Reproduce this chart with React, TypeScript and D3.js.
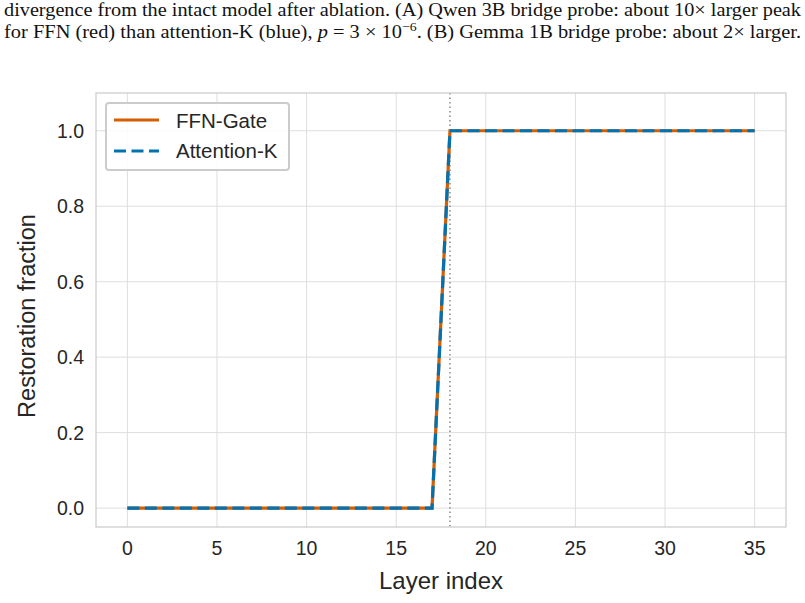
import React from "react";
import * as d3 from "d3";

// layer indices and restoration fractions per probe
const layers = d3.range(0, 36);
const ffnGate = [
  0, 0, 0, 0, 0, 0, 0, 0, 0, 0, 0, 0, 0, 0, 0, 0, 0, 0,
  1, 1, 1, 1, 1, 1, 1, 1, 1, 1, 1, 1, 1, 1, 1, 1, 1, 1,
];
const attentionK = [
  0, 0, 0, 0, 0, 0, 0, 0, 0, 0, 0, 0, 0, 0, 0, 0, 0, 0,
  1, 1, 1, 1, 1, 1, 1, 1, 1, 1, 1, 1, 1, 1, 1, 1, 1, 1,
];
const bridgeLayer = 18;
const xTicks = [0, 5, 10, 15, 20, 25, 30, 35];
const yTicks = [0, 0.2, 0.4, 0.6, 0.8, 1.0];
const captionLine1 =
  "divergence from the intact model after ablation. (A) Qwen 3B bridge probe: about 10\u00d7 larger peak";

const W = 805;
const H = 603;
const plot = { left: 96, right: 786, top: 93, bottom: 527 };

const App = () => {
  const x = d3.scaleLinear().domain([-1.75, 36.75]).range([plot.left, plot.right]);
  const y = d3.scaleLinear().domain([-0.05, 1.1]).range([plot.bottom, plot.top]);

  const line = d3
    .line<[number, number]>()
    .x((d) => x(d[0]))
    .y((d) => y(d[1]));

  const ffnPts = layers.map((l, i) => [l, ffnGate[i]] as [number, number]);
  const attPts = layers.map((l, i) => [l, attentionK[i]] as [number, number]);

  const sans = "Liberation Sans, Arial, sans-serif";
  const orange = "#d55e00";
  const blue = "#0072b2";
  const dash = "12,5.5";

  return (
    <svg width={W} height={H} style={{ position: "absolute", left: 0, top: 0 }}>
      <rect width={W} height={H} fill="#fff" />
      {/* caption */}
      <g fontFamily="Liberation Serif, Times New Roman, serif" fontSize={18.5} fill="#111">
        <text x={4} y={16} textLength={797} lengthAdjust="spacingAndGlyphs">
          {captionLine1}
        </text>
        <text x={4} y={37.5} textLength={797} lengthAdjust="spacingAndGlyphs">
          for FFN (red) than attention-K (blue), <tspan fontStyle="italic">p</tspan> = 3 {"\u00d7"} 10
          <tspan dy={-7} fontSize={12.5}>{"\u22126"}</tspan>
          <tspan dy={7}>. (B) Gemma 1B bridge probe: about 2{"\u00d7"} larger.</tspan>
        </text>
      </g>

      {/* grid */}
      <g stroke="#dedede" strokeWidth={1}>
        {xTicks.map((t) => (
          <line key={"gx" + t} x1={x(t)} x2={x(t)} y1={plot.top} y2={plot.bottom} />
        ))}
        {yTicks.map((t) => (
          <line key={"gy" + t} x1={plot.left} x2={plot.right} y1={y(t)} y2={y(t)} />
        ))}
      </g>

      {/* bridge layer marker */}
      <line
        x1={x(bridgeLayer)}
        x2={x(bridgeLayer)}
        y1={plot.top}
        y2={plot.bottom}
        stroke="#888"
        strokeWidth={1.5}
        strokeDasharray="1.5,3"
      />

      {/* series */}
      <path d={line(ffnPts) || ""} fill="none" stroke={orange} strokeWidth={3.2} />
      <path
        d={line(attPts) || ""}
        fill="none"
        stroke={blue}
        strokeWidth={3.2}
        strokeDasharray={dash}
      />

      {/* spines */}
      <rect
        x={plot.left}
        y={plot.top}
        width={plot.right - plot.left}
        height={plot.bottom - plot.top}
        fill="none"
        stroke="#cccccc"
        strokeWidth={1.25}
      />

      {/* tick labels */}
      <g fontFamily={sans} fontSize={19.5} fill="#262626">
        {xTicks.map((t) => (
          <text key={"tx" + t} x={x(t)} y={555} textAnchor="middle">
            {t}
          </text>
        ))}
        {yTicks.map((t) => (
          <text key={"ty" + t} x={84} y={y(t) + 7} textAnchor="end">
            {t.toFixed(1)}
          </text>
        ))}
      </g>

      {/* axis labels */}
      <text
        x={441}
        y={589}
        textAnchor="middle"
        fontFamily={sans}
        fontSize={24}
        fill="#262626"
      >
        Layer index
      </text>
      <text
        transform={`translate(35,316) rotate(-90)`}
        textAnchor="middle"
        fontFamily={sans}
        fontSize={23.5}
        fill="#262626"
      >
        Restoration fraction
      </text>

      {/* legend */}
      <g>
        <rect x={106} y={103} width={183} height={67} rx={3} fill="#fff" fillOpacity={0.85} stroke="#cccccc" strokeWidth={2} />
        <line x1={114} x2={159} y1={120} y2={120} stroke={orange} strokeWidth={3.2} />
        <line x1={114} x2={159} y1={151} y2={151} stroke={blue} strokeWidth={3.2} strokeDasharray={dash} />
        <g fontFamily={sans} fontSize={20.5} fill="#262626">
          <text x={176} y={127.5}>FFN-Gate</text>
          <text x={176} y={158}>Attention-K</text>
        </g>
      </g>
    </svg>
  );
};

export default App;
